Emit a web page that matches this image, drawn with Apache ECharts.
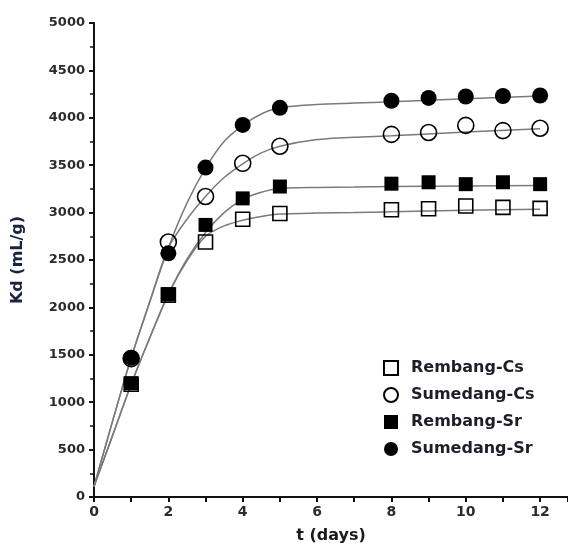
<!DOCTYPE html>
<html>
<head>
<meta charset="utf-8">
<script src="https://cdn.jsdelivr.net/npm/echarts@6/dist/echarts.min.js"></script>
<style>
html, body { margin: 0; padding: 0; background: #fff; }
#chart { width: 568px; height: 550px; }
</style>
</head>
<body>
<div id="chart"></div>
<script>
// measured points
var days = [1, 2, 3, 4, 5, 8, 9, 10, 11, 12];
var rembangCs  = [1190, 2130, 2690, 2930, 2990, 3030, 3040, 3070, 3055, 3045];
var sumedangCs = [1460, 2690, 3170, 3520, 3700, 3825, 3845, 3920, 3865, 3890];
var rembangSr  = [1200, 2140, 2870, 3150, 3275, 3305, 3320, 3300, 3320, 3300];
var sumedangSr = [1470, 2570, 3475, 3925, 4105, 4180, 4210, 4225, 4230, 4235];

// fitted curves
var fitDays = [0, 0.5, 1, 1.5, 2, 2.5, 3, 3.5, 4, 4.5, 5, 6, 7, 8, 10, 12];
var fitRembangCs  = [110, 650, 1190, 1680, 2140, 2490, 2750, 2860, 2920, 2960, 2985, 2995, 3000, 3010, 3025, 3035];
var fitSumedangCs = [110, 800, 1470, 2060, 2630, 2930, 3170, 3370, 3515, 3630, 3700, 3770, 3795, 3810, 3850, 3885];
var fitRembangSr  = [110, 650, 1190, 1680, 2140, 2510, 2790, 3000, 3140, 3215, 3255, 3265, 3270, 3275, 3280, 3285];
var fitSumedangSr = [110, 800, 1470, 2060, 2630, 3100, 3470, 3750, 3920, 4040, 4105, 4140, 4155, 4170, 4200, 4230];

function pairs(xs, ys) {
    return xs.map(function (x, i) { return [x, ys[i]]; });
}

function fitLine(ys) {
    return {
        type: 'line',
        data: pairs(fitDays, ys),
        smooth: 0.25,
        showSymbol: false,
        silent: true,
        lineStyle: { color: '#7a7a7a', width: 1.5 },
        z: 1
    };
}

function marks(name, symbol, filled, ys) {
    return {
        name: name,
        type: 'scatter',
        data: pairs(days, ys),
        symbol: symbol,
        symbolSize: symbol == 'rect' ? 14 : 16,
        itemStyle: {
            color: filled ? '#000' : 'transparent',
            borderColor: '#000',
            borderWidth: filled ? 0 : 1.6,
            opacity: 1
        },
        z: 3
    };
}

var myChart = echarts.init(document.getElementById('chart'));
var tickFont = { color: '#2b2b2b', fontFamily: 'DejaVu Sans', fontWeight: 'bold' };

var option = {
    animation: false,
    grid: { left: 94, right: 0, top: 23, bottom: 53, outerBoundsMode: 'none' },
    legend: {
        orient: 'vertical',
        left: 378,
        top: 354,
        itemWidth: 14,
        itemHeight: 14,
        itemGap: 9,
        data: ['Rembang-Cs', 'Sumedang-Cs', 'Rembang-Sr', 'Sumedang-Sr'],
        textStyle: {
            color: '#1e1e2a',
            fontFamily: 'DejaVu Sans',
            fontWeight: 'bold',
            fontSize: 16,
            lineHeight: 18,
            padding: [0, 0, 0, 8]
        }
    },
    xAxis: {
        type: 'value',
        min: 0,
        max: 12.75,
        interval: 2,
        name: 't (days)',
        nameLocation: 'middle',
        nameGap: 31,
        nameTextStyle: { color: '#1a1a1a', fontFamily: 'DejaVu Sans', fontWeight: 'bold', fontSize: 16 },
        axisLine: { lineStyle: { color: '#111', width: 2 } },
        axisTick: { length: 5, lineStyle: { color: '#111', width: 2 } },
        minorTick: { show: true, splitNumber: 2, length: 5, lineStyle: { color: '#111', width: 2 } },
        splitLine: { show: false },
        axisLabel: Object.assign({ fontSize: 14, margin: 8, showMaxLabel: false }, tickFont)
    },
    yAxis: {
        type: 'value',
        min: 0,
        max: 5000,
        interval: 500,
        name: 'Kd (mL/g)',
        nameLocation: 'middle',
        nameGap: 68,
        nameRotate: 90,
        nameTextStyle: { color: '#1c2240', fontFamily: 'DejaVu Sans', fontWeight: 'bold', fontSize: 16 },
        axisLine: { show: true, lineStyle: { color: '#111', width: 2 } },
        axisTick: { show: true, length: 5, lineStyle: { color: '#111', width: 2 } },
        minorTick: { show: true, splitNumber: 2, length: 4, lineStyle: { color: '#111', width: 1.5 } },
        splitLine: { show: false },
        axisLabel: Object.assign({ fontSize: 13, margin: 9, formatter: function (v) { return String(v); } }, tickFont)
    },
    series: [
        fitLine(fitRembangCs),
        fitLine(fitSumedangCs),
        fitLine(fitRembangSr),
        fitLine(fitSumedangSr),
        marks('Rembang-Cs', 'rect', false, rembangCs),
        marks('Sumedang-Cs', 'circle', false, sumedangCs),
        marks('Rembang-Sr', 'rect', true, rembangSr),
        marks('Sumedang-Sr', 'circle', true, sumedangSr)
    ]
};

myChart.setOption(option);
window.addEventListener('resize', function () { myChart.resize(); });
</script>
</body>
</html>
